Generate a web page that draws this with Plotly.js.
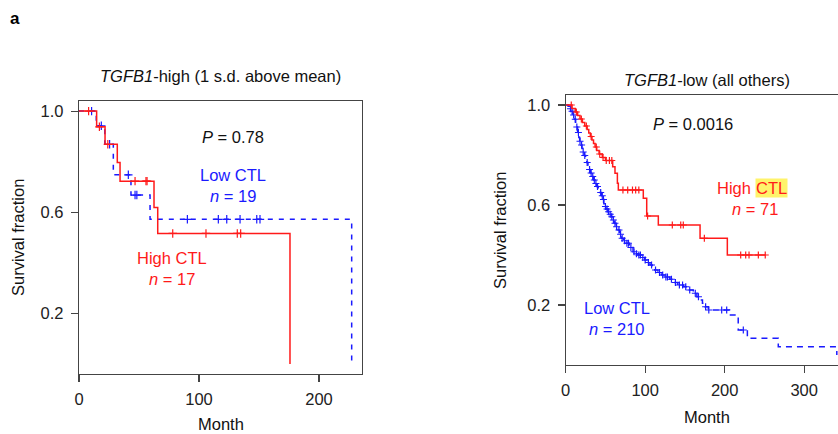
<!DOCTYPE html>
<html>
<head>
<meta charset="utf-8">
<script src="https://cdn.plot.ly/plotly-3.0.1.min.js"></script>
<style>html,body{margin:0;padding:0;background:#fff;}#chart{width:838px;height:434px;}</style>
</head>
<body>
<div id="chart"></div>
<script>
// ---------- DATA ----------
// Panel 1: TGFB1-high (1 s.d. above mean)
const p1HighT = [0, 14.7, 21.7, 31.9, 34.2, 62.5, 65.6, 175.8];
const p1HighS = [1, 0.938, 0.869, 0.797, 0.723, 0.619, 0.516, 0];
const p1HighCens = [8, 17, 24, 46.7, 55.8, 56.7, 78.1, 105.8, 131.9, 134.7];

const p1LowT = [0, 14.4, 21.5, 28.6, 43.3, 59.2, 227.2];
const p1LowS = [1, 0.942, 0.869, 0.748, 0.668, 0.572, 0];
const p1LowCens = [10.5, 18.6, 25.5, 41.1, 46.7, 48.2, 90.3, 116.1, 123.1, 134.2, 148.1, 150.8];

// Panel 2: TGFB1-low (all others)
const p2HighT = [0, 8, 12, 15, 18, 21, 24, 27, 29, 31, 33, 35, 37, 39, 42, 46, 50, 59.1, 62, 65, 66.2, 97.6, 101.9, 116.5, 169, 203.3, 251];
const p2HighS = [1, 0.986, 0.972, 0.958, 0.944, 0.93, 0.916, 0.902, 0.888, 0.874, 0.86, 0.846, 0.832, 0.818, 0.804, 0.79, 0.778, 0.753, 0.727, 0.687, 0.66, 0.627, 0.556, 0.52, 0.467, 0.40, 0.40];
const p2HighCens = [7, 13.4, 19.7, 26, 32, 38.5, 42.8, 47, 51, 55, 58, 72, 78, 84, 88, 92, 103, 134.1, 144.7, 147.9, 174.4, 220.1, 226.4, 230.6, 242.3, 251];

const p2LowT = [0, 3, 5, 7, 9, 11, 12.5, 13.5, 15, 16.5, 17.6, 19, 20.5, 22, 23.5, 25, 26.5, 28, 29.5, 31, 33, 35, 37, 39, 41, 43, 45, 47, 48, 49.5, 51, 53, 55, 57.4, 59.5, 61.6, 63.5, 65.8, 68, 70, 73, 76, 80, 84.7, 88, 91, 95, 99.4, 103, 106, 109, 112, 116, 120.3, 125, 131, 135.3, 141, 148, 154, 160.5, 165, 169, 172, 175.2, 179.4, 206, 217, 228.5, 267.4, 341];
const p2LowS = [1, 0.995, 0.985, 0.975, 0.96, 0.943, 0.925, 0.912, 0.89, 0.87, 0.855, 0.84, 0.826, 0.812, 0.798, 0.785, 0.77, 0.756, 0.742, 0.728, 0.714, 0.70, 0.686, 0.674, 0.662, 0.65, 0.637, 0.622, 0.605, 0.594, 0.584, 0.573, 0.563, 0.553, 0.54, 0.527, 0.513, 0.50, 0.483, 0.467, 0.457, 0.447, 0.43, 0.413, 0.405, 0.40, 0.39, 0.38, 0.37, 0.36, 0.35, 0.34, 0.33, 0.32, 0.312, 0.303, 0.29, 0.28, 0.273, 0.26, 0.247, 0.233, 0.22, 0.207, 0.193, 0.18, 0.16, 0.10, 0.067, 0.033, 0];
const p2LowCens = [6, 8, 10, 12, 14, 16, 18, 20, 22, 24, 27, 30, 32, 34, 36, 38, 40, 44, 46, 47.5, 50, 52, 54, 56, 58, 60, 62, 64, 67, 69, 71, 74, 77, 79, 82, 86, 89, 92, 94, 97, 100, 104, 108, 113, 118, 122, 126, 128, 133, 138, 143, 147, 151, 156, 163, 167, 176, 180, 196.2, 202.5, 223.4];

const xTicks1 = [0, 100, 200];
const xTicks2 = [0, 100, 200, 300];
const yTicks = [0.2, 0.6, 1.0];
const yTickText = ['0.2', '0.6', '1.0'];

// ---------- helpers ----------
function survAt(t, T, S) {
  let s = S[0];
  for (let i = 0; i < T.length; i++) { if (T[i] <= t) s = S[i]; }
  return s;
}
const RED = '#ff1a1a', BLUE = '#1a1aff';
const FONT = 'Liberation Sans, Arial, Helvetica, sans-serif';
const W = 838, H = 434;
const px = x => x / W, py = y => 1 - y / H;

function curve(T, S, color, dash, xa, ya) {
  return {x: T, y: S, type: 'scatter', mode: 'lines', xaxis: xa, yaxis: ya,
    line: {shape: 'hv', color: color, width: 1.5, dash: dash}, hoverinfo: 'skip'};
}
function cens(C, T, S, color, size, xa, ya) {
  return {x: C, y: C.map(t => survAt(t, T, S)), type: 'scatter', mode: 'markers', xaxis: xa, yaxis: ya,
    marker: {symbol: 'cross-thin', size: size, color: color, line: {color: color, width: 1.2}}, hoverinfo: 'skip'};
}

const data = [
  curve(p1LowT, p1LowS, BLUE, '5px,6px', 'x', 'y'),
  cens(p1LowCens, p1LowT, p1LowS, BLUE, 6, 'x', 'y'),
  curve(p1HighT, p1HighS, RED, 'solid', 'x', 'y'),
  cens(p1HighCens, p1HighT, p1HighS, RED, 6, 'x', 'y'),
  curve(p2LowT, p2LowS, BLUE, '6px,5px', 'x2', 'y2'),
  cens(p2LowCens, p2LowT, p2LowS, BLUE, 5, 'x2', 'y2'),
  curve(p2HighT, p2HighS, RED, 'solid', 'x2', 'y2'),
  cens(p2HighCens, p2HighT, p2HighS, RED, 5, 'x2', 'y2')
];

const axBase = {
  showgrid: false, zeroline: false, showline: true, linecolor: '#444', linewidth: 1.2,
  ticks: 'outside', ticklen: 7, tickwidth: 1.2, tickcolor: '#444',
  tickfont: {family: FONT, size: 16.5, color: '#222'}, fixedrange: true
};

function ann(text, x, y, color, extra) {
  return Object.assign({text: text, x: px(x), y: py(y), xref: 'paper', yref: 'paper',
    xanchor: 'center', yanchor: 'middle', showarrow: false,
    font: {family: FONT, size: 16.5, color: color}}, extra || {});
}

const layout = {
  width: W, height: H, margin: {l: 0, r: 0, t: 0, b: 0},
  paper_bgcolor: '#fff', plot_bgcolor: '#fff', showlegend: false,
  xaxis: Object.assign({}, axBase, {domain: [px(79), px(362)], range: [0, 235.8], tickvals: xTicks1, mirror: true, anchor: 'y', ticklabelstandoff: 3}),
  yaxis: Object.assign({}, axBase, {domain: [py(374), py(101)], range: [-0.04, 1.04], tickvals: yTicks, ticktext: yTickText, mirror: true, anchor: 'x', ticklabelstandoff: 4}),
  xaxis2: Object.assign({}, axBase, {domain: [px(565.7), 1], range: [0, 342.5], tickvals: xTicks2, mirror: true, anchor: 'y2', ticklabelstandoff: 3}),
  yaxis2: Object.assign({}, axBase, {domain: [py(365), py(95)], range: [-0.04, 1.04], tickvals: yTicks, ticktext: yTickText, mirror: false, anchor: 'x2', ticklabelstandoff: 4}),
  annotations: [
    ann('<b>a</b>', 15.5, 18, '#000', {font: {family: FONT, size: 17, color: '#000'}}),
    ann('<i>TGFB1</i>-high (1 s.d. above mean)', 220.5, 76, '#111'),
    ann('<i>TGFB1</i>-low (all others)', 706.7, 80, '#111'),
    ann('Month', 221, 424, '#111'),
    ann('Month', 707, 417, '#111'),
    ann('Survival fraction', 18, 238, '#111', {textangle: -90}),
    ann('Survival fraction', 500, 230, '#111', {textangle: -90}),
    ann('<i>P</i> = 0.78', 233, 137, '#111'),
    ann('Low CTL', 233, 175, BLUE),
    ann('<i>n</i> = 19', 233, 196, BLUE),
    ann('High CTL', 172, 258, RED),
    ann('<i>n</i> = 17', 172, 279, RED),
    ann('<i>P</i> = 0.0016', 693, 124, '#111'),
    ann('High', 753, 188, RED, {xanchor: 'right'}),
    ann('CTL', 755, 188, RED, {xanchor: 'left', bgcolor: '#fff36b', borderpad: 0}),
    ann('<i>n</i> = 71', 755, 209, RED),
    ann('Low CTL', 617, 308, BLUE),
    ann('<i>n</i> = 210', 617, 329, BLUE)
  ]
};

Plotly.newPlot('chart', data, layout, {staticPlot: true, displayModeBar: false});
</script>
</body>
</html>
